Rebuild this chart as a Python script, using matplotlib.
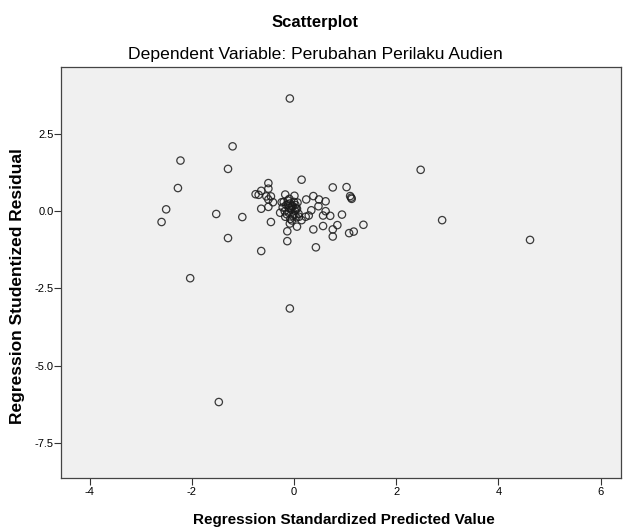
import matplotlib
matplotlib.use("Agg")
import matplotlib.pyplot as plt

plt.rcParams['font.family'] = ['Liberation Sans', 'DejaVu Sans']
plt.rcParams['axes.unicode_minus'] = False

# Regression Standardized Predicted Value (x) and Studentized Residual (y)
pred = [-0.08, -1.20, -2.22, -1.29, 2.48, 0.15, -2.27, -0.50, -0.50, 0.76,
        1.03, 1.10, 1.13, 1.12, -2.50, -1.52, -1.01, -2.59, 2.90, 4.62,
        -1.29, -0.64, -2.03, -0.08, -1.47, -0.45, -0.64, -0.50, -0.75, -0.69,
        -0.64, -0.54, -0.45, -0.50, -0.41, -0.17, 0.01, -0.24, -0.27, -0.13,
        -0.13, 0.06, 0.24, 0.38, 0.49, 0.62, 0.48, 0.34, 0.62, 0.57,
        0.71, 0.94, 0.38, 0.57, 0.76, 0.85, 0.76, 1.08, 1.17, 1.36,
        0.43, 0.15, 0.23, 0.29, -0.08, -0.17,
        -0.20, -0.15, -0.12, -0.10, -0.08, -0.05, -0.03, 0.00, 0.03, 0.06,
        -0.18, -0.14, -0.10, -0.06, -0.02, 0.02, 0.05, 0.09, -0.12, -0.07,
        -0.03, 0.01, 0.04, -0.22, 0.10, -0.09, -0.04, 0.07]
resid = [3.65, 2.10, 1.64, 1.37, 1.34, 1.02, 0.75, 0.91, 0.73, 0.77,
         0.78, 0.49, 0.40, 0.44, 0.06, -0.09, -0.19, -0.35, -0.29, -0.93,
         -0.87, -1.29, -2.17, -3.15, -6.18, -0.35, 0.08, 0.14, 0.55, 0.53,
         0.66, 0.48, 0.48, 0.38, 0.29, 0.54, 0.50, 0.29, -0.05, -0.65,
         -0.97, -0.50, 0.38, 0.49, 0.38, 0.32, 0.16, 0.03, 0.00, -0.14,
         -0.15, -0.11, -0.59, -0.48, -0.59, -0.45, -0.82, -0.71, -0.66, -0.44,
         -1.17, -0.29, -0.18, -0.14, -0.40, -0.18,
         0.30, 0.20, 0.35, 0.10, 0.25, 0.05, 0.15, 0.30, 0.20, 0.08,
         0.00, -0.10, -0.05, 0.12, -0.15, 0.02, -0.20, -0.08, 0.22, -0.25,
         0.18, -0.12, 0.10, 0.12, -0.18, 0.40, -0.30, 0.28]

xticks = [-4, -2, 0, 2, 4, 6]
yticks = [2.5, 0.0, -2.5, -5.0, -7.5]
ytick_labels = ["2.5", "0.0", "-2.5", "-5.0", "-7.5"]

fig = plt.figure(figsize=(6.23, 5.28), dpi=100)
ax = fig.add_axes([61.4 / 623, 1 - 478 / 528, (621 - 61.4) / 623, (478 - 67.3) / 528])
ax.set_facecolor('#F0F0F0')

ax.scatter(pred, resid, s=28, facecolors='none', edgecolors='#1a1a1a',
           linewidths=0.9, alpha=0.85, zorder=3)

ax.set_xlim(-4.55, 6.40)
ax.set_ylim(-8.64, 4.66)
ax.set_xticks(xticks)
ax.set_xticklabels([str(t) for t in xticks])
ax.set_yticks(yticks)
ax.set_yticklabels(ytick_labels)
ax.tick_params(axis='both', direction='out', length=5, width=0.8, labelsize=8,
               colors='#333333', labelcolor='black')
ax.tick_params(axis='x', pad=1.5)
ax.tick_params(axis='y', pad=0.5)

for sp in ax.spines.values():
    sp.set_color('#444444')
    sp.set_linewidth(0.9)

ax.set_xlabel('Regression Standardized Predicted Value', fontsize=11, fontweight='bold')
ax.xaxis.set_label_coords(0.505, -0.102)
ax.xaxis.label.set_va('center')
ax.set_ylabel('Regression Studentized Residual', fontsize=12.5, fontweight='bold')
ax.yaxis.set_label_coords(-0.079, 0.4675)
ax.yaxis.label.set_va('center')

fig.text(315 / 623, 1 - 26.7 / 528, 'Scatterplot', ha='center', va='baseline',
         fontsize=12, fontweight='bold')
fig.text(315 / 623, 1 - 58.5 / 528, 'Dependent Variable: Perubahan Perilaku Audien',
         ha='center', va='baseline', fontsize=12.6)

fig.savefig('out.png', dpi=100, facecolor='white')
